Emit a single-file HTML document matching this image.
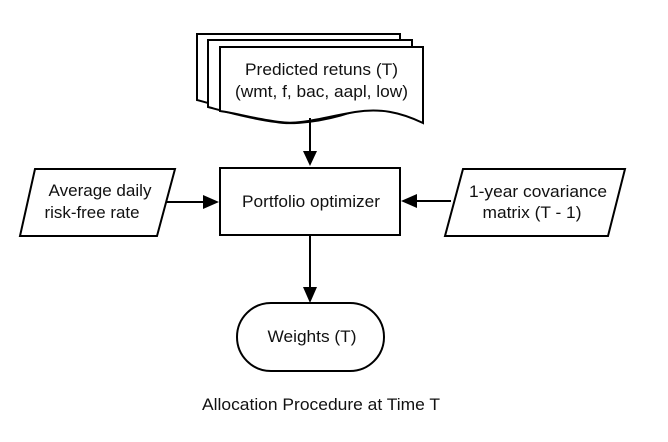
<!DOCTYPE html>
<html><head><meta charset="utf-8"><style>
html,body{margin:0;padding:0;background:#fff;}
svg{display:block;}
text{font-family:"Liberation Sans",sans-serif;font-size:17px;fill:#111;}
</style></head><body>
<svg width="668" height="442" viewBox="0 0 668 442" xmlns="http://www.w3.org/2000/svg">
<g fill="#fff" stroke="#000" stroke-width="2">
<path d="M197,34 H400 V110 C380,98 360,100 340,105 C310,115 280,118 264,115 C240,112 215,105 197,100 Z"/>
<path d="M208,40 H412 V117 C392,105 372,107 352,112 C322,122 292,125 276,122 C252,119 227,112 208,107 Z"/>
<path d="M220,47 H423 V123 C400,112 380,108 355,112 C320,118 300,125 280,122 C260,120 240,114 220,111 Z"/>
</g>
<text x="321.5" y="75" text-anchor="middle" textLength="153" lengthAdjust="spacingAndGlyphs">Predicted retuns (T)</text>
<text x="321.5" y="97" text-anchor="middle" textLength="173" lengthAdjust="spacingAndGlyphs">(wmt, f, bac, aapl, low)</text>
<g stroke="#000" stroke-width="2" fill="none">
<line x1="310" y1="118" x2="310" y2="152"/>
<line x1="158" y1="202" x2="206" y2="202"/>
<line x1="451" y1="201" x2="414" y2="201"/>
<line x1="310" y1="236" x2="310" y2="288"/>
</g>
<g fill="#000">
<path d="M303,151 L317,151 L310,166 Z"/>
<path d="M203,195 L219,202 L203,209 Z"/>
<path d="M417,194 L401,201 L417,208 Z"/>
<path d="M303,287 L317,287 L310,303 Z"/>
</g>
<g fill="#fff" stroke="#000" stroke-width="2">
<rect x="220" y="168" width="180" height="67"/>
<path d="M35,169 H175 L157,236 H20 Z"/>
<path d="M463,169 H625 L608,236 H445 Z"/>
<rect x="237" y="303" width="147" height="68" rx="34" ry="34"/>
</g>
<text x="311" y="207" text-anchor="middle" textLength="138" lengthAdjust="spacingAndGlyphs">Portfolio optimizer</text>
<text x="100" y="196" text-anchor="middle" textLength="103" lengthAdjust="spacingAndGlyphs">Average daily</text>
<text x="92" y="218" text-anchor="middle" textLength="95" lengthAdjust="spacingAndGlyphs">risk-free rate</text>
<text x="538" y="197" text-anchor="middle" textLength="138" lengthAdjust="spacingAndGlyphs">1-year covariance</text>
<text x="532" y="218" text-anchor="middle" textLength="99" lengthAdjust="spacingAndGlyphs">matrix (T - 1)</text>
<text x="312" y="342" text-anchor="middle" textLength="89" lengthAdjust="spacingAndGlyphs">Weights (T)</text>
<text x="321" y="410" text-anchor="middle" textLength="238" lengthAdjust="spacingAndGlyphs">Allocation Procedure at Time T</text>
</svg>
</body></html>
